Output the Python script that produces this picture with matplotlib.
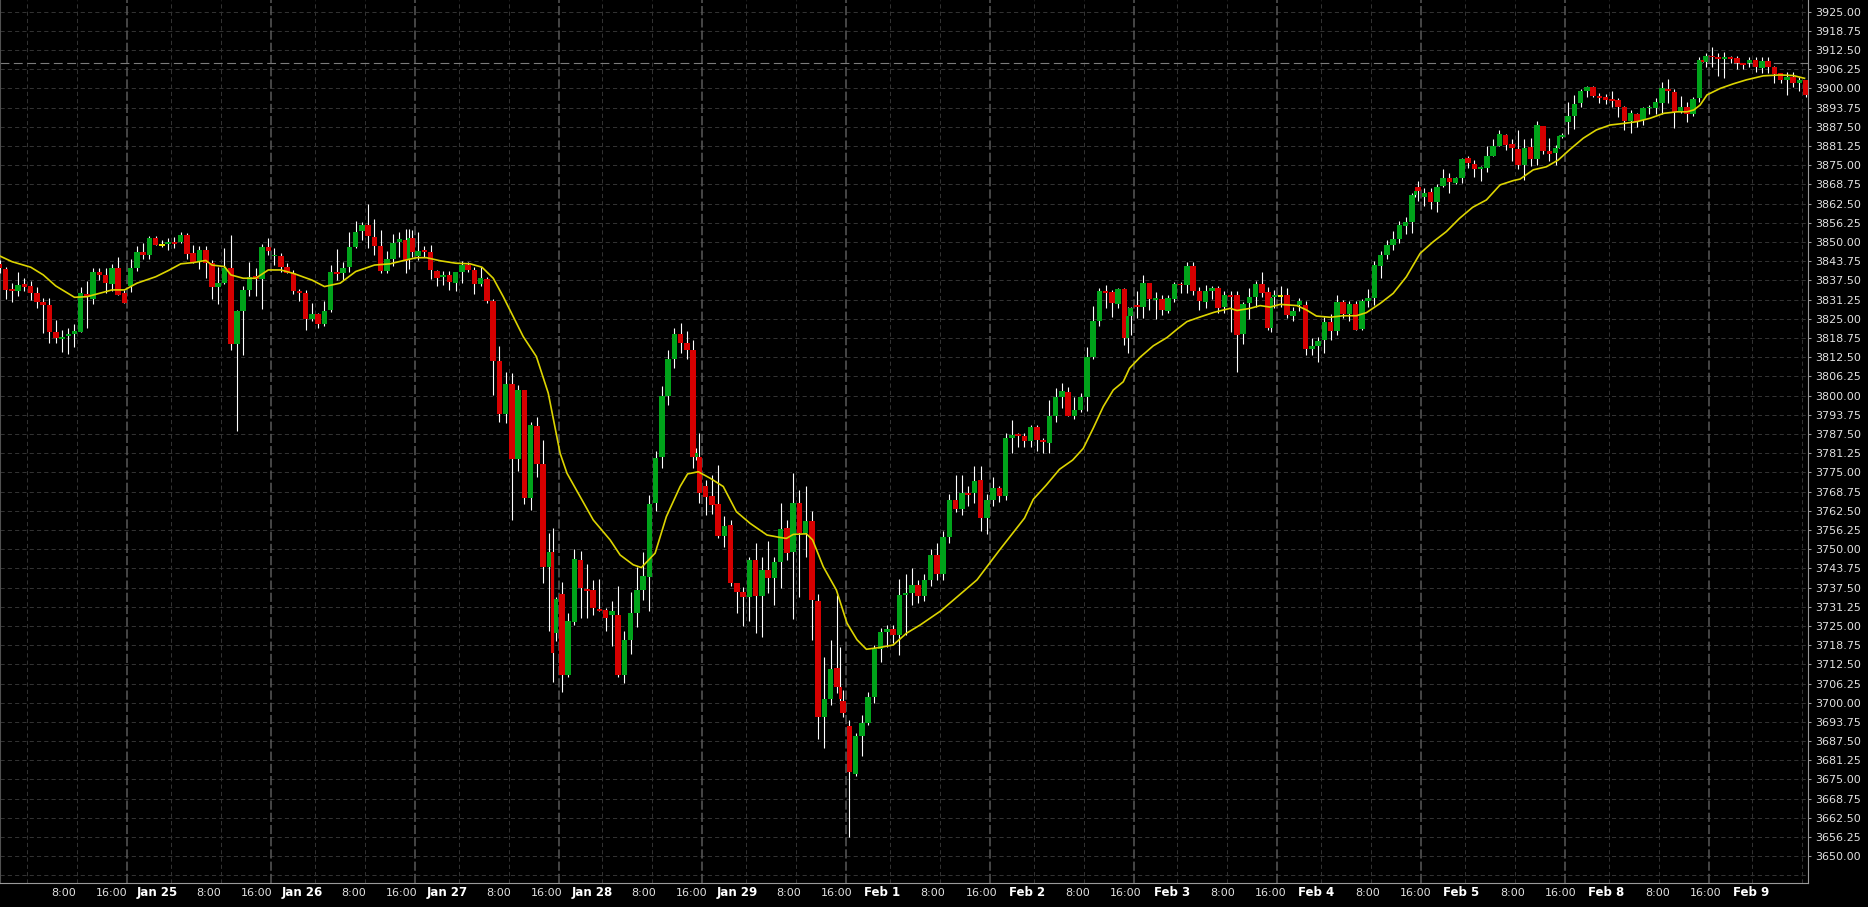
import numpy as np
import matplotlib.pyplot as plt
from matplotlib.transforms import blended_transform_factory

# Hourly bars (one per slot, slot = index)
opens = [
    3843.0, 3841.2, 3834.6, 3834.1, 3836.3, 3835.7, 3833.4, 3830.5, 3829.5, 3820.8,
    3818.5, 3819.5, 3820.2, 3820.8, 3833.1, 3831.6, 3840.3, 3839.3, 3836.3, 3841.6,
    3833.3, 3835.7, 3841.7, 3846.9, 3845.9, 3851.3, 3849.1, 3849.4, 3850.0, 3850.0,
    3852.3, 3846.3, 3843.6, 3847.4, 3843.1, 3835.2, 3836.6, 3841.6, 3816.8, 3827.6,
    3834.4, 3838.9, 3838.1, 3848.5, 3845.3, 3845.5, 3841.8, 3839.8, 3834.1, 3833.3,
    3824.8, 3826.6, 3823.3, 3827.9, 3840.4, 3840.0, 3841.9, 3848.4, 3853.6, 3855.5,
    3851.5, 3848.7, 3840.6, 3844.5, 3850.1, 3850.8, 3851.4, 3845.6, 3847.4, 3846.8,
    3840.6, 3838.5, 3839.3, 3836.8, 3840.4, 3842.5, 3840.9, 3836.3, 3838.0, 3830.8,
    3811.3, 3794.0, 3803.8, 3779.4, 3801.8, 3766.8, 3790.1, 3777.7, 3744.3, 3722.6,
    3735.4, 3709.1, 3726.4, 3746.5, 3737.1, 3736.7, 3730.6, 3730.2, 3728.6, 3728.6,
    3709.1, 3720.5, 3729.1, 3736.7, 3740.8, 3765.1, 3780.1, 3800.0, 3812.0, 3820.0,
    3817.0, 3815.0, 3780.1, 3770.6, 3767.3, 3764.7, 3754.3, 3757.9, 3738.9, 3736.2,
    3734.5, 3746.5, 3734.9, 3743.2, 3740.7, 3745.9, 3757.0, 3749.2, 3765.1, 3755.2,
    3759.2, 3733.1, 3695.5, 3701.2, 3711.4, 3700.7, 3692.5, 3676.8, 3689.2, 3693.5,
    3701.7, 3717.4, 3723.0, 3724.0, 3722.0, 3735.2, 3735.8, 3738.3, 3734.8, 3740.0,
    3748.0, 3742.0, 3754.0, 3766.0, 3763.0, 3768.2, 3768.2, 3772.5, 3760.0, 3766.0,
    3770.0, 3767.3, 3786.2, 3787.5, 3786.9, 3785.2, 3789.7, 3785.6, 3784.7, 3793.2,
    3799.7, 3801.3, 3793.5, 3795.3, 3799.4, 3812.4, 3824.3, 3834.1, 3833.8, 3829.8,
    3834.6, 3826.0, 3829.4, 3828.9, 3836.8, 3831.1, 3831.5, 3827.6, 3831.5, 3836.4,
    3835.9, 3842.2, 3834.1, 3830.6, 3834.1, 3835.1, 3829.0, 3832.8, 3832.8, 3820.1,
    3830.0, 3832.0, 3836.4, 3833.7, 3832.0, 3832.5, 3832.8, 3826.0, 3829.4, 3829.5,
    3815.1, 3816.2, 3818.1, 3824.0, 3821.0, 3830.5, 3826.6, 3829.8, 3821.7, 3830.8,
    3831.8, 3842.3, 3845.8, 3848.9, 3851.0, 3855.3, 3856.6, 3867.8, 3864.5, 3866.3,
    3863.0, 3868.4, 3870.9, 3869.1, 3870.9, 3877.5, 3875.4, 3873.8, 3874.2, 3878.0,
    3881.3, 3884.9, 3881.9, 3880.3, 3875.1, 3881.0, 3877.0, 3887.9, 3879.6, 3879.1,
    3884.3, 3889.2, 3891.0, 3895.4, 3899.3, 3900.4, 3897.6, 3897.1, 3896.6, 3896.2,
    3893.9, 3889.4, 3891.7, 3889.7, 3893.5, 3893.7, 3895.4, 3899.8, 3898.9, 3892.8,
    3893.8, 3891.6, 3897.0, 3908.7, 3910.6, 3910.1, 3909.5, 3910.1, 3909.8, 3908.2,
    3908.2, 3909.3, 3906.8, 3908.9, 3907.1, 3904.9, 3902.8, 3903.8, 3901.9, 3902.8,
]
highs = [
    3844.0, 3841.8, 3836.6, 3840.1, 3838.4, 3837.3, 3835.2, 3831.7, 3831.7, 3824.6,
    3821.4, 3821.9, 3823.3, 3835.3, 3837.3, 3841.7, 3841.7, 3841.4, 3843.0, 3845.0,
    3834.4, 3844.5, 3848.7, 3849.6, 3852.0, 3851.8, 3850.7, 3851.2, 3851.5, 3853.4,
    3852.8, 3849.0, 3848.7, 3848.7, 3844.2, 3842.0, 3848.0, 3852.3, 3827.9, 3835.7,
    3843.4, 3841.7, 3849.3, 3851.4, 3848.0, 3846.5, 3843.1, 3840.9, 3834.6, 3834.4,
    3830.0, 3826.8, 3830.8, 3842.4, 3847.6, 3843.6, 3853.3, 3856.8, 3856.6, 3862.4,
    3857.5, 3854.0, 3847.2, 3852.6, 3853.4, 3854.1, 3854.0, 3853.4, 3848.7, 3849.0,
    3840.9, 3840.6, 3840.6, 3840.4, 3843.8, 3843.6, 3841.8, 3841.8, 3838.5, 3831.4,
    3816.2, 3807.8, 3807.3, 3803.4, 3801.8, 3791.5, 3792.9, 3785.6, 3755.4, 3734.5,
    3739.4, 3729.1, 3750.0, 3749.4, 3745.2, 3739.8, 3740.3, 3730.7, 3733.1, 3738.0,
    3723.5, 3736.2, 3744.3, 3749.1, 3767.6, 3782.0, 3803.0, 3815.0, 3822.0, 3823.5,
    3821.0, 3818.0, 3787.7, 3772.5, 3774.1, 3777.4, 3760.8, 3759.5, 3738.9, 3737.8,
    3747.6, 3751.9, 3747.6, 3752.8, 3747.6, 3764.9, 3759.5, 3774.7, 3769.3, 3770.6,
    3762.5, 3735.4, 3715.0, 3720.4, 3735.1, 3704.2, 3694.4, 3690.1, 3696.0, 3703.6,
    3718.8, 3724.2, 3725.3, 3725.3, 3740.2, 3741.9, 3743.8, 3740.0, 3742.0, 3750.0,
    3752.0, 3756.0, 3768.0, 3774.0, 3774.0, 3770.4, 3777.1, 3777.1, 3768.0, 3773.6,
    3770.4, 3787.7, 3792.0, 3787.9, 3787.9, 3790.4, 3790.4, 3786.1, 3798.4, 3802.4,
    3804.0, 3802.9, 3799.7, 3800.7, 3815.9, 3829.2, 3834.9, 3836.0, 3834.4, 3834.9,
    3834.9, 3829.0, 3834.2, 3839.3, 3836.8, 3833.8, 3832.8, 3832.8, 3837.1, 3837.1,
    3843.6, 3843.6, 3835.5, 3836.0, 3835.8, 3835.7, 3834.1, 3834.1, 3834.1, 3830.6,
    3834.9, 3837.4, 3840.3, 3835.3, 3834.4, 3835.7, 3835.0, 3829.0, 3831.7, 3830.9,
    3818.7, 3819.0, 3825.7, 3826.6, 3832.8, 3831.1, 3830.9, 3830.9, 3831.3, 3834.7,
    3843.9, 3847.2, 3850.7, 3853.6, 3856.8, 3858.3, 3866.1, 3869.9, 3867.5, 3867.7,
    3869.0, 3873.8, 3872.4, 3871.3, 3877.5, 3878.0, 3876.7, 3874.9, 3881.3, 3883.7,
    3886.5, 3885.2, 3883.4, 3886.5, 3883.4, 3884.0, 3889.4, 3887.9, 3884.0, 3881.6,
    3885.5, 3895.7, 3897.9, 3899.7, 3900.8, 3900.8, 3898.4, 3898.1, 3899.2, 3896.8,
    3894.3, 3893.0, 3891.9, 3894.1, 3894.6, 3896.8, 3902.2, 3903.0, 3899.7, 3897.6,
    3895.7, 3897.3, 3910.1, 3911.4, 3913.6, 3911.7, 3912.0, 3910.6, 3910.6, 3908.4,
    3910.1, 3910.1, 3910.1, 3910.1, 3907.3, 3905.1, 3905.5, 3905.5, 3903.8, 3902.8,
]
lows = [
    3840.0, 3831.5, 3830.6, 3832.4, 3834.1, 3831.1, 3828.4, 3820.5, 3817.0, 3817.0,
    3814.3, 3813.5, 3815.7, 3820.8, 3822.1, 3829.8, 3837.6, 3833.5, 3834.0, 3832.8,
    3830.3, 3833.6, 3840.6, 3844.5, 3844.4, 3849.1, 3848.5, 3847.4, 3848.0, 3849.8,
    3844.4, 3843.3, 3841.1, 3838.2, 3831.5, 3829.8, 3836.2, 3814.9, 3788.6, 3813.3,
    3832.4, 3832.4, 3828.3, 3845.8, 3842.5, 3840.4, 3839.8, 3833.1, 3830.9, 3821.4,
    3824.4, 3821.9, 3822.8, 3827.3, 3837.6, 3837.6, 3840.4, 3848.0, 3850.7, 3848.0,
    3845.8, 3839.8, 3840.0, 3842.2, 3845.2, 3840.0, 3845.0, 3844.2, 3845.2, 3838.0,
    3835.7, 3836.0, 3834.4, 3834.2, 3836.6, 3840.4, 3833.1, 3835.7, 3830.0, 3800.2,
    3791.5, 3791.0, 3759.5, 3775.5, 3764.7, 3762.8, 3773.6, 3739.1, 3723.2, 3720.0,
    3703.6, 3708.5, 3725.3, 3727.5, 3727.5, 3728.6, 3729.7, 3723.5, 3718.6, 3708.5,
    3706.5, 3715.9, 3724.8, 3733.5, 3730.0, 3762.5, 3776.5, 3797.0, 3809.0, 3814.0,
    3812.0, 3776.3, 3764.9, 3761.1, 3761.4, 3753.5, 3750.8, 3738.0, 3729.1, 3725.1,
    3726.7, 3722.6, 3721.5, 3735.8, 3731.8, 3737.5, 3746.5, 3727.3, 3734.5, 3747.5,
    3720.4, 3688.1, 3685.2, 3699.3, 3703.1, 3695.5, 3656.4, 3676.2, 3682.7, 3692.8,
    3699.8, 3713.4, 3718.3, 3719.5, 3715.4, 3722.0, 3731.8, 3732.6, 3733.0, 3738.0,
    3740.0, 3740.0, 3752.0, 3762.0, 3761.0, 3764.0, 3765.0, 3756.0, 3755.0, 3764.0,
    3765.5, 3766.0, 3781.2, 3783.2, 3783.1, 3783.1, 3782.1, 3781.2, 3781.4, 3791.5,
    3795.9, 3793.5, 3792.4, 3794.6, 3795.1, 3811.9, 3822.7, 3828.4, 3825.7, 3828.4,
    3816.5, 3819.7, 3825.2, 3825.2, 3827.9, 3824.9, 3826.2, 3827.0, 3830.6, 3833.3,
    3833.3, 3832.8, 3827.9, 3828.4, 3831.3, 3827.0, 3827.0, 3820.8, 3807.8, 3816.8,
    3825.0, 3829.0, 3832.2, 3821.4, 3828.4, 3829.0, 3825.2, 3824.4, 3827.7, 3813.2,
    3813.2, 3811.0, 3814.0, 3818.1, 3819.8, 3825.2, 3824.4, 3821.2, 3821.2, 3829.0,
    3829.5, 3838.4, 3844.4, 3847.4, 3849.6, 3852.6, 3852.8, 3863.2, 3861.7, 3860.8,
    3859.9, 3867.8, 3866.1, 3868.8, 3869.3, 3874.0, 3871.3, 3870.0, 3872.9, 3878.0,
    3881.3, 3880.0, 3876.5, 3873.7, 3870.2, 3874.8, 3875.1, 3878.7, 3876.5, 3875.1,
    3884.0, 3885.2, 3886.7, 3893.9, 3897.3, 3897.3, 3895.4, 3895.1, 3893.8, 3890.8,
    3886.5, 3885.6, 3887.3, 3888.1, 3891.6, 3891.7, 3891.7, 3895.4, 3887.0, 3891.9,
    3889.2, 3891.1, 3895.7, 3906.9, 3906.9, 3904.0, 3903.5, 3908.2, 3906.2, 3906.2,
    3906.9, 3905.5, 3905.1, 3904.9, 3901.7, 3901.7, 3897.9, 3900.4, 3899.2, 3897.3,
]
closes = [
    3841.5, 3834.4, 3834.0, 3836.0, 3835.4, 3833.4, 3830.6, 3829.6, 3820.8, 3818.9,
    3819.2, 3820.2, 3821.1, 3833.3, 3832.0, 3840.3, 3839.3, 3836.8, 3841.6, 3832.8,
    3830.3, 3841.7, 3846.9, 3845.9, 3851.3, 3849.1, 3849.1, 3850.0, 3849.4, 3852.3,
    3846.1, 3843.6, 3847.4, 3843.1, 3835.2, 3836.6, 3841.6, 3816.8, 3827.6, 3834.4,
    3838.5, 3838.1, 3848.4, 3847.2, 3845.8, 3841.8, 3840.0, 3834.1, 3833.3, 3824.8,
    3826.6, 3823.3, 3827.6, 3840.2, 3839.7, 3841.4, 3848.4, 3853.3, 3855.5, 3852.1,
    3848.7, 3840.6, 3844.5, 3849.8, 3851.0, 3843.8, 3846.9, 3847.1, 3846.8, 3840.9,
    3838.4, 3839.3, 3837.1, 3840.4, 3842.5, 3840.9, 3836.3, 3838.4, 3830.8, 3811.3,
    3794.0, 3803.8, 3779.4, 3801.8, 3766.8, 3790.4, 3777.7, 3744.3, 3749.2, 3733.7,
    3709.1, 3726.6, 3746.8, 3737.5, 3736.5, 3730.7, 3730.0, 3727.7, 3729.7, 3709.1,
    3720.5, 3729.3, 3736.7, 3741.1, 3764.7, 3779.8, 3800.0, 3812.0, 3820.0, 3817.0,
    3815.0, 3780.1, 3768.4, 3767.1, 3764.4, 3754.3, 3757.5, 3738.9, 3736.2, 3734.5,
    3746.5, 3734.9, 3743.2, 3740.7, 3745.9, 3756.6, 3748.9, 3765.1, 3755.2, 3759.2,
    3733.4, 3695.5, 3701.2, 3711.1, 3705.1, 3696.6, 3677.6, 3689.2, 3693.3, 3701.7,
    3717.4, 3723.0, 3723.9, 3722.0, 3735.1, 3735.8, 3738.3, 3734.8, 3740.0, 3748.0,
    3742.0, 3754.0, 3766.0, 3763.0, 3768.2, 3767.6, 3772.2, 3760.0, 3766.0, 3770.0,
    3767.3, 3786.2, 3787.1, 3786.9, 3785.2, 3789.7, 3785.6, 3785.0, 3793.2, 3799.7,
    3801.5, 3793.5, 3795.3, 3799.4, 3812.4, 3824.3, 3834.1, 3833.5, 3830.3, 3834.6,
    3818.9, 3828.4, 3828.9, 3836.8, 3831.5, 3831.8, 3827.9, 3831.8, 3836.3, 3835.9,
    3842.2, 3834.2, 3830.8, 3834.1, 3835.1, 3828.6, 3832.8, 3832.2, 3819.8, 3829.8,
    3832.0, 3836.4, 3833.3, 3822.1, 3832.9, 3832.5, 3826.3, 3827.7, 3830.9, 3815.1,
    3816.2, 3817.8, 3824.0, 3821.0, 3830.5, 3826.6, 3829.8, 3821.4, 3830.8, 3831.8,
    3842.5, 3845.8, 3848.9, 3851.0, 3855.5, 3856.6, 3865.3, 3866.7, 3866.1, 3863.1,
    3868.0, 3870.9, 3869.6, 3870.9, 3877.0, 3875.8, 3873.8, 3874.5, 3878.0, 3881.3,
    3885.2, 3881.6, 3880.5, 3875.1, 3880.7, 3877.0, 3888.1, 3879.6, 3878.7, 3880.7,
    3884.9, 3891.0, 3895.1, 3899.2, 3900.4, 3897.6, 3897.0, 3896.2, 3895.9, 3894.1,
    3889.5, 3891.9, 3889.4, 3893.5, 3893.9, 3895.7, 3900.3, 3899.3, 3892.4, 3893.8,
    3891.6, 3896.5, 3909.3, 3910.6, 3910.1, 3909.5, 3910.1, 3909.5, 3908.2, 3907.6,
    3909.3, 3907.1, 3908.9, 3907.1, 3904.7, 3902.8, 3903.8, 3901.9, 3902.8, 3897.9,
]

# Short end-of-session bars, squeezed between hourly slots
short_slot = [65.5, 88.5, 111.5, 134.5, 180.5, 203.5, 226.5, 249.5, 272.5]
short_open = [3844.2, 3749.2, 3780.1, 3705.1, 3818.9, 3822.1, 3865.3, 3880.7, 3909.3]
short_high = [3854.2, 3756.8, 3783.0, 3718.3, 3829.0, 3832.2, 3867.0, 3884.8, 3909.5]
short_low = [3841.1, 3706.6, 3779.0, 3699.8, 3813.8, 3820.8, 3864.5, 3880.7, 3908.5]
short_close = [3851.4, 3716.1, 3781.4, 3701.2, 3826.0, 3831.9, 3866.6, 3884.5, 3908.7]

# Moving average
ma_slot = [
    0, 2, 5, 7, 9, 12, 14, 16, 18, 20, 22, 25, 27, 29, 31, 33, 34, 36, 37, 39,
    41, 43, 45, 47, 50, 52, 54.5, 57, 60, 62.5, 64.5, 66.7, 68.3, 70.5, 73, 75.3,
    77.2, 79, 80.6, 82.2, 83.8, 85.9, 87.8, 89.7, 90.8, 92.9, 95, 97.7, 99.3,
    101.4, 102.7, 104.9, 106.7, 108.9, 110.1, 111.8, 113.7, 115.8, 117.9, 120.1,
    122.8, 124.9, 125.9, 127, 129.1, 130.1, 131.8, 133.9, 135.6, 137.2, 138.7,
    140.9, 143, 145.1, 147.3, 150.6, 156.4, 160, 164, 165.4, 167.5, 169.6, 171.7,
    173.4, 175, 176.6, 178.2, 179.8, 180.8, 182.5, 184.6, 186.8, 188.4, 190,
    192.1, 194.3, 196.9, 198, 200.1, 201.7, 203.3, 204.9, 207.6, 209.1, 210.7,
    212.9, 215, 217.1, 218.7, 220.9, 223, 225.1, 227.3, 229.4, 231.5, 233.6,
    235.7, 237.9, 240.1, 242.2, 243.3, 245.4, 247.5, 249.4, 251.3, 253.4, 255.5,
    257.7, 259.8, 262, 264.1, 266.3, 268.4, 270, 271.1, 272.1, 273.2, 275.3,
    277.4, 279.5, 282.2, 284.8, 287, 288.8,
]
ma_value = [
    3845.5, 3843.6, 3841.8, 3839.3, 3835.7, 3832.0, 3832.2, 3833.3, 3834.4, 3834.4,
    3836.6, 3838.7, 3840.7, 3842.9, 3843.3, 3844.0, 3842.5, 3842.0, 3839.3, 3838.2,
    3838.2, 3840.9, 3840.9, 3839.8, 3837.6, 3835.5, 3836.6, 3840.4, 3842.5, 3842.9,
    3843.9, 3844.9, 3844.9, 3843.9, 3843.1, 3842.9, 3841.8, 3838.2, 3832.2, 3825.7,
    3819.2, 3812.7, 3800.8, 3781.2, 3774.7, 3767.1, 3759.5, 3753.0, 3748.1, 3744.9,
    3744.0, 3748.7, 3760.6, 3770.4, 3774.5, 3775.2, 3773.1, 3770.4, 3762.2, 3758.4,
    3754.6, 3753.8, 3753.5, 3754.8, 3755.0, 3753.0, 3744.3, 3736.7, 3725.9, 3720.5,
    3717.4, 3718.0, 3718.8, 3722.6, 3725.3, 3729.9, 3740.0, 3749.7, 3760.1, 3766.2,
    3770.9, 3776.0, 3779.0, 3782.8, 3789.4, 3796.4, 3801.8, 3804.5, 3808.9, 3812.5,
    3816.2, 3818.9, 3821.6, 3824.1, 3825.6, 3827.1, 3828.4, 3827.7, 3828.4, 3829.3,
    3828.8, 3829.7, 3829.3, 3827.9, 3825.9, 3825.5, 3826.0, 3826.0, 3827.0, 3830.0,
    3833.3, 3838.7, 3846.3, 3850.1, 3853.4, 3857.7, 3861.3, 3863.7, 3868.6, 3870.0,
    3870.5, 3873.5, 3874.5, 3876.7, 3880.2, 3883.8, 3886.5, 3888.1, 3888.6, 3889.2,
    3890.3, 3891.9, 3892.4, 3892.4, 3893.0, 3894.6, 3897.9, 3900.0, 3901.5, 3902.8,
    3904.1, 3904.4, 3904.2, 3903.3,
]

ref_level = 3908.25
day_labels = ["Jan 25", "Jan 26", "Jan 27", "Jan 28", "Jan 29", "Feb 1",
              "Feb 2", "Feb 3", "Feb 4", "Feb 5", "Feb 8", "Feb 9"]

GREEN = "#00a31a"
RED = "#d60000"
DOJI = "#e6e600"
MA_COLOR = "#dcd400"
GRID = "#323232"


def draw_candles(ax, x, o, h, l, c, width):
    x, o, h, l, c = map(np.asarray, (x, o, h, l, c))
    ax.vlines(x, l, h, color="white", lw=0.8, zorder=3)
    up = c > o
    down = c < o
    flat = c == o
    body = np.maximum(np.abs(c - o), 0.35)
    ax.bar(x[up], body[up], bottom=o[up], width=width, color=GREEN, lw=0, zorder=4)
    ax.bar(x[down], body[down], bottom=c[down], width=width, color=RED, lw=0, zorder=4)
    ax.bar(x[flat], 0.5, bottom=o[flat] - 0.25, width=width, color=DOJI, lw=0, zorder=4)


fig = plt.figure(figsize=(18.68, 9.07), dpi=100, facecolor="black")
ax = fig.add_axes([0, 24 / 907, 1808 / 1868, 883 / 907])
ax.set_facecolor("black")

# Grid
for lvl in np.arange(3643.75, 3926, 6.25):
    ax.axhline(lvl, color=GRID, lw=0.75, ls=(0, (4, 3)), zorder=1)
sessions = [20.45 + 23 * k for k in range(12)]
for s in sessions:
    ax.axvline(s, color="#5a5a5a", lw=1.1, ls=(0, (6, 2)), zorder=1)
    for off in (-16, -8):
        ax.axvline(s + off, color=GRID, lw=0.75, ls=(0, (4, 3)), zorder=1)
for off in (7, 15):
    ax.axvline(sessions[-1] + off, color=GRID, lw=0.75, ls=(0, (4, 3)), zorder=1)
ax.axhline(ref_level, color="#7c7c7c", lw=0.8, ls=(0, (8, 4)), zorder=2)

draw_candles(ax, np.arange(len(opens)), opens, highs, lows, closes, 0.88)
draw_candles(ax, short_slot, short_open, short_high, short_low, short_close, 0.45)
ax.plot(ma_slot, ma_value, color=MA_COLOR, lw=1.2, zorder=5)

ax.set_xlim(0.08, 289.36)
ax.set_ylim(3641.3, 3928.8)

# Price axis on the right
ax.yaxis.tick_right()
yt = np.arange(3650, 3926, 6.25)
ax.set_yticks(yt)
ax.set_yticklabels([f"{v:.2f}" for v in yt])
ax.tick_params(axis="y", colors="#9a9a9a", labelcolor="#e2e2e2", labelsize=8,
               length=2.5, width=0.75, pad=3)
ax.set_xticks([])

for side in ("left", "bottom", "right"):
    ax.spines[side].set_color("#9a9a9a")
    ax.spines[side].set_linewidth(0.8)
ax.spines["left"].set_color("#505050")
ax.spines["top"].set_visible(False)

# Time labels
tr = blended_transform_factory(ax.transData, ax.transAxes)
for k, day in enumerate(day_labels):
    base = 23.18 * k
    ax.text(10.3 + base, -0.0113, "8:00", transform=tr, ha="center", va="center",
            color="#e2e2e2", fontsize=8)
    ax.text(18.0 + base, -0.0113, "16:00", transform=tr, ha="center", va="center",
            color="#e2e2e2", fontsize=8)
    ax.text(25.3 + base, -0.0113, day, transform=tr, ha="center", va="center",
            color="white", fontsize=8.5, fontweight="bold")

fig.savefig("out.png", dpi=100, facecolor="black")
